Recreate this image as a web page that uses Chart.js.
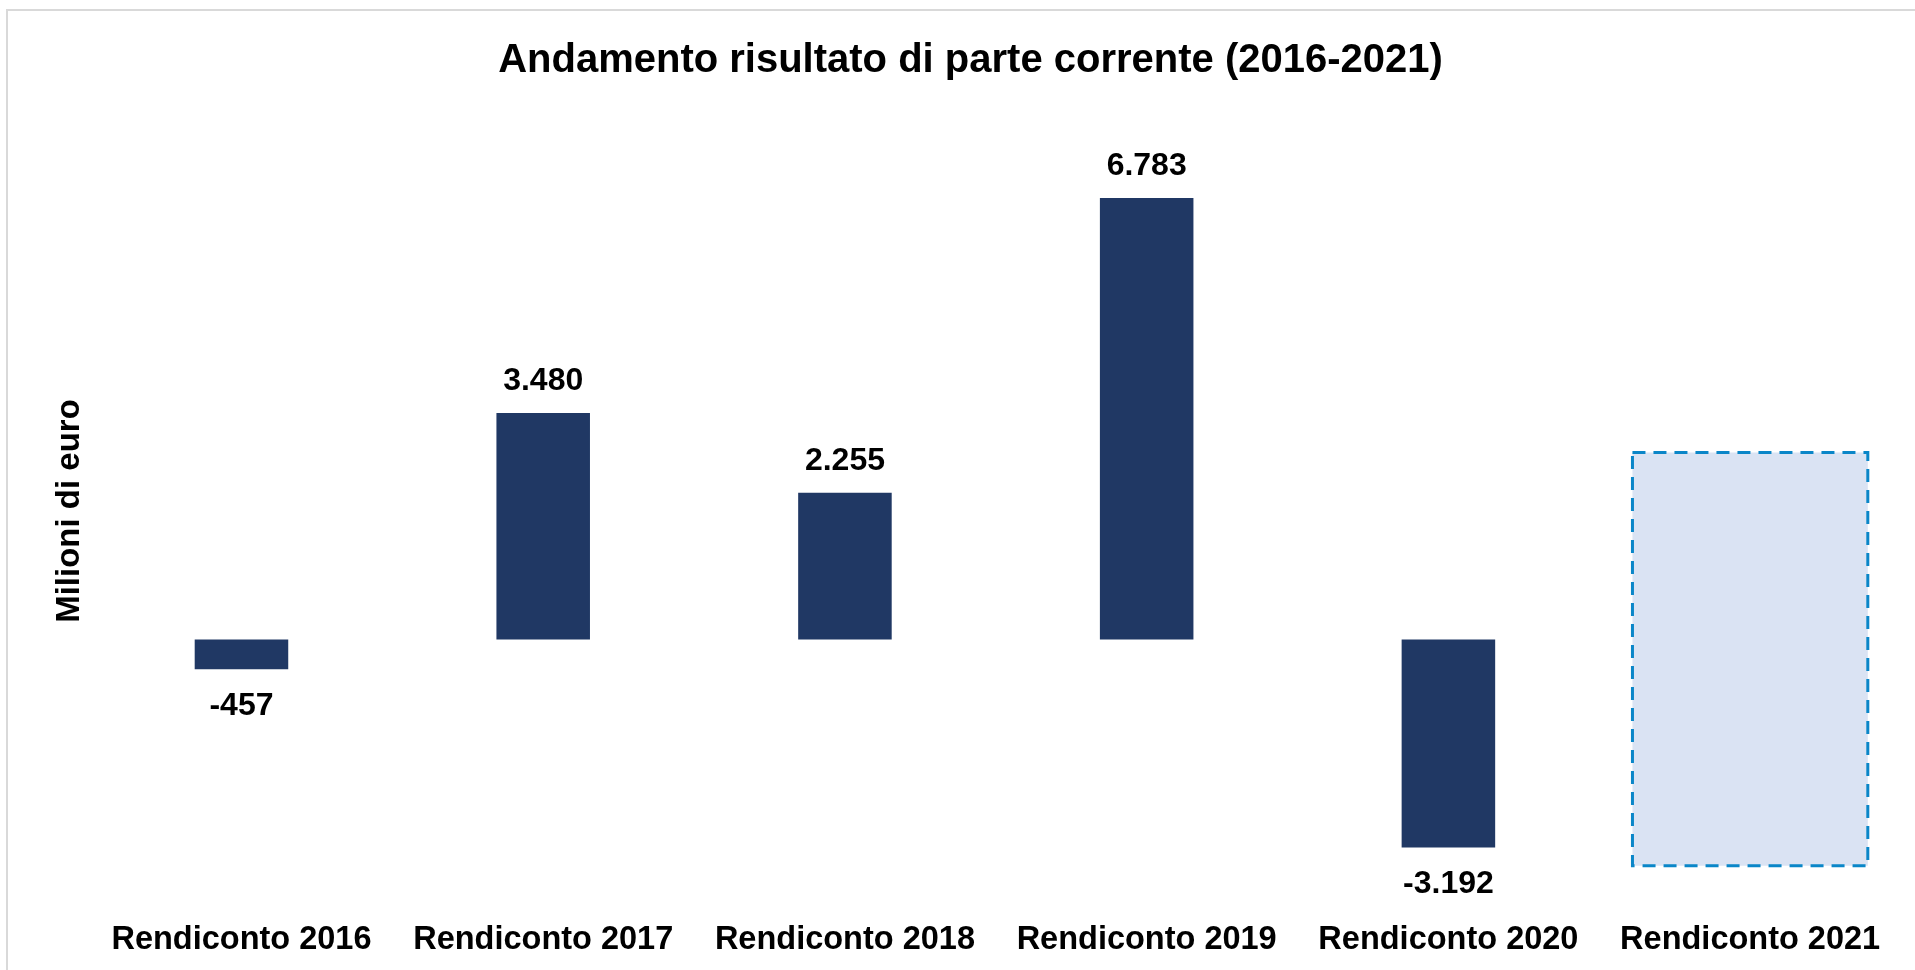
<!DOCTYPE html>
<html>
<head>
<meta charset="utf-8">
<script src="https://cdn.jsdelivr.net/npm/chart.js@4/dist/chart.umd.min.js"></script>
<style>
  html, body { margin: 0; padding: 0; background: #fff; }
  #box { position: relative; width: 1915px; height: 970px; }
</style>
</head>
<body>
<div id="box"><canvas id="grafico"></canvas></div>
<script>
(function() {

  const categorie = ['Rendiconto 2016', 'Rendiconto 2017', 'Rendiconto 2018', 'Rendiconto 2019', 'Rendiconto 2020', 'Rendiconto 2021'];
  const risultato = [-457, 3480, 2255, 6783, -3192, null];
  // 2021: riquadro tratteggiato (intervallo atteso)
  const stima2021 = [null, null, null, null, null, [-3475, 2875]];

  const FONT = '"Liberation Sans", Arial, sans-serif';

  function formatta(v) {
    const s = Math.abs(v).toString().replace(/\B(?=(\d{3})+(?!\d))/g, '.');
    return (v < 0 ? '-' : '') + s;
  }

  // cornice grigia attorno al grafico
  const cornice = {
    id: 'cornice',
    beforeDraw(chart) {
      const c = chart.ctx;
      c.save();
      c.strokeStyle = '#d9d9d9';
      c.lineWidth = 2;
      c.beginPath();
      c.moveTo(7, chart.height);
      c.lineTo(7, 10);
      c.lineTo(chart.width, 10);
      c.stroke();
      c.restore();
    }
  };

  // bordo tratteggiato per la barra 2021
  const tratteggio = {
    id: 'tratteggio',
    afterDatasetsDraw(chart) {
      const c = chart.ctx;
      const meta = chart.getDatasetMeta(1);
      c.save();
      c.strokeStyle = '#0a86c8';
      c.lineWidth = 3;
      c.setLineDash([13, 8]);
      meta.data.forEach((el, i) => {
        if (stima2021[i] == null) return;
        const p = el.getProps(['x', 'y', 'base', 'width'], true);
        const top = Math.min(p.y, p.base);
        c.strokeRect(p.x - p.width / 2, top, p.width, Math.abs(p.base - p.y));
      });
      c.restore();
    }
  };

  // etichette dei valori
  const etichette = {
    id: 'etichette',
    afterDatasetsDraw(chart) {
      const c = chart.ctx;
      const meta = chart.getDatasetMeta(0);
      c.save();
      c.fillStyle = '#000';
      c.font = 'bold 32px ' + FONT;
      c.textAlign = 'center';
      c.textBaseline = 'middle';
      meta.data.forEach((el, i) => {
        const v = risultato[i];
        if (v == null) return;
        const p = el.getProps(['x', 'y'], true);
        c.fillText(formatta(v), p.x, v >= 0 ? p.y - 32 : p.y + 37);
      });
      c.restore();
    }
  };

  const ctx = document.querySelector('#grafico');
  new Chart(ctx, {
    type: 'bar',
    data: {
      labels: categorie,
      datasets: [{
        data: risultato,
        backgroundColor: '#203864',
        borderWidth: 0,
        barPercentage: 0.31,
        categoryPercentage: 1,
        grouped: false
      }, {
        data: stima2021,
        backgroundColor: '#dae3f3',
        borderWidth: 0,
        barPercentage: 0.78,
        categoryPercentage: 1,
        grouped: false
      }]
    },
    options: {
      responsive: true,
      maintainAspectRatio: false,
      animation: false,
      layout: { padding: { left: 40, right: 14, top: 0, bottom: 2 } },
      scales: {
        x: {
          grid: { display: false, drawTicks: false },
          border: { display: false },
          ticks: { color: '#000', padding: 8, font: { family: FONT, size: 32.5, weight: 'bold' } }
        },
        y: {
          min: -4200,
          max: 8150,
          grid: {
            drawTicks: false,
            lineWidth: 2,
            color: c => c.tick && c.tick.value === 0 ? '#d9d9d9' : 'rgba(0,0,0,0)'
          },
          border: { display: false },
          ticks: { display: false, stepSize: 1000 },
          title: {
            display: true,
            text: 'Milioni di euro',
            color: '#000',
            padding: { top: 10, bottom: 1 },
            font: { family: FONT, size: 33, weight: 'bold' }
          }
        }
      },
      plugins: {
        legend: { display: false },
        tooltip: { enabled: false },
        title: {
          display: true,
          text: 'Andamento risultato di parte corrente (2016-2021)',
          color: '#000',
          padding: { top: 37, bottom: 24 },
          font: { family: FONT, size: 40, weight: 'bold' }
        }
      }
    },
    plugins: [cornice, tratteggio, etichette]
  });

})();
</script>
</body>
</html>
